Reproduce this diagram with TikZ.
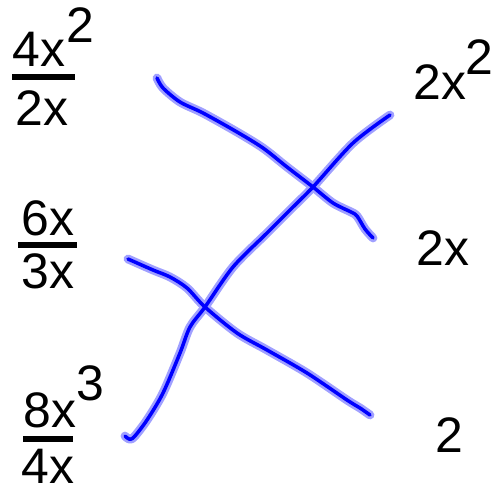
\documentclass[tikz,border=0pt]{standalone}
\usepackage{fontspec}
\setmainfont{Liberation Sans}
\usepackage{tikz}
\usetikzlibrary{calc, positioning}
\usepackage{xcolor}
\definecolor{pen}{RGB}{0, 0, 255}
\definecolor{penglow}{RGB}{160, 160, 255}

\begin{document}
\begin{tikzpicture}[x=0.02cm, y=-0.02cm,
  term/.style={inner sep=0pt, anchor=base west, font=\fontsize{28.4}{34}\selectfont},
  fracbar/.style={line width=3, black},
  glow/.style={penglow, line width=5, line cap=round, line join=round},
  ink/.style={pen, line width=2, line cap=round, line join=round}]
  \useasboundingbox (0,0) rectangle (499,493);

  % Left column: fractions
  \node[term] (n1) at (12,67)  {4x};
  \node[term] (e1) at (66,43)  {2};
  \node[term] (d1) at (15,126) {2x};
  \draw[fracbar] (12,77) -- (75,77);

  \node[term] (n2) at (21,235) {6x};
  \node[term] (d2) at (21,288) {3x};
  \draw[fracbar] (18,245) -- (77,245);

  \node[term] (n3) at (23,427) {8x};
  \node[term] (e3) at (76,400) {3};
  \node[term] (d3) at (21,483) {4x};
  \draw[fracbar] (23,439) -- (73,439);

  % Right column: answers
  \node[term] (r1) at (413,100) {2x};
  \node[term] (x1) at (465,75)  {2};
  \node[term] (r2) at (416,265) {2x};
  \node[term] (r3) at (435,452) {2};

  % Ends of the hand-drawn matches
  \coordinate (s1) at (157,78);
  \coordinate (t1) at (373,238);
  \coordinate (s2) at (125,436);
  \coordinate (t2) at (390,115);
  \coordinate (s3) at (128,259);
  \coordinate (t3) at (370,415);

  % Matching strokes
  \foreach \sty in {glow, ink} {
    \draw[\sty] plot[smooth, tension=0.5] coordinates {(s1) (163,88) (180,102) (203,113)
      (237,132) (263,148) (287,167) (313,187) (333,203) (351,212) (357,216) (365,229) (t1)};
    \draw[\sty] plot[smooth, tension=0.5] coordinates {(s2) (129,439) (134,437) (147,420)
      (163,393) (180,353) (190,327) (205,307) (233,267) (267,233) (293,207) (313,187)
      (353,143) (t2)};
    \draw[\sty] plot[smooth, tension=0.5] coordinates {(s3) (153,270) (170,277) (187,288)
      (205,307) (237,333) (267,350) (307,373) (347,400) (360,408) (t3)};
  }
\end{tikzpicture}
\end{document}
